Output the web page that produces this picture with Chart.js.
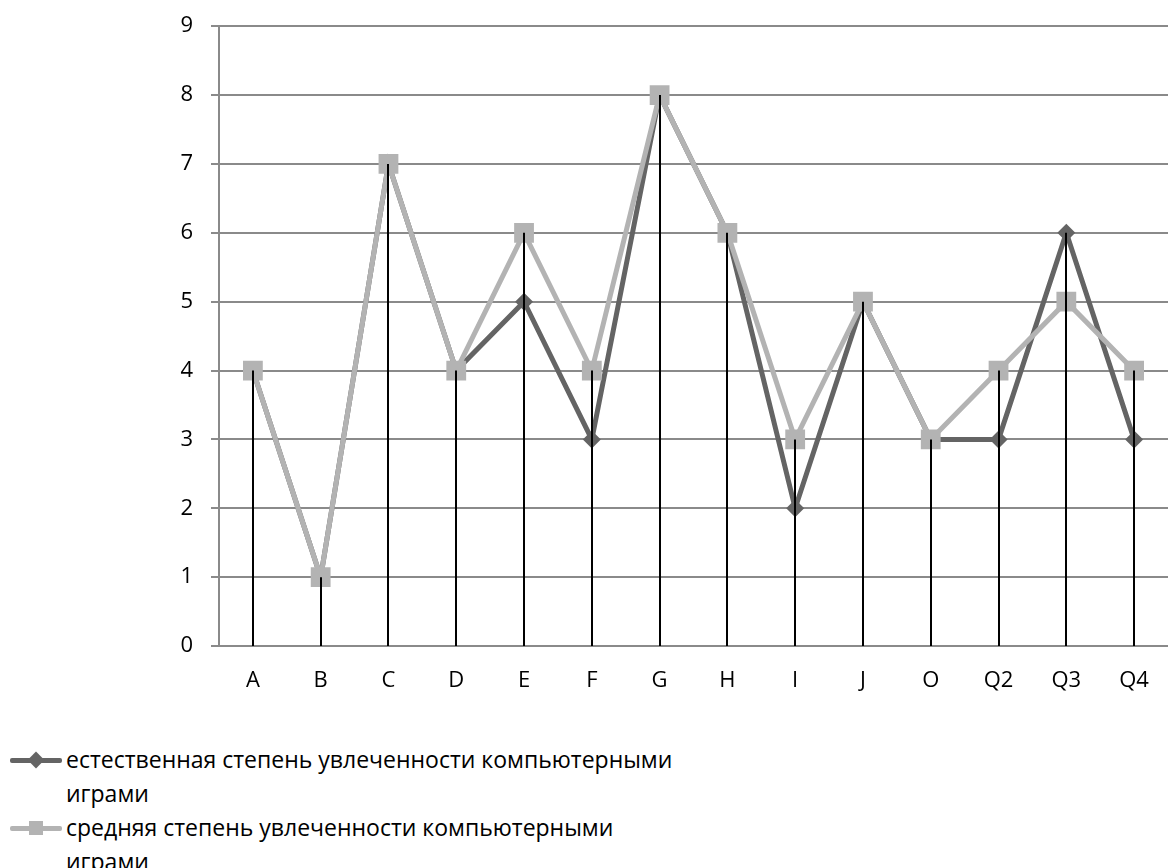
<!DOCTYPE html>
<html>
<head>
<meta charset="utf-8">
<script src="https://cdn.jsdelivr.net/npm/chart.js@4.4.1/dist/chart.umd.min.js"></script>
<style>
  html, body { margin: 0; padding: 0; background: #fff; overflow: hidden; }
  body { width: 1173px; height: 868px; position: relative; font-family: "Open Sans", sans-serif; }
  #wrap { position: absolute; left: 0; top: -5px; width: 1182px; height: 725px; }
  #legend { position: absolute; left: 0; top: 742px; width: 720px; }
  .item { position: relative; padding-left: 66px; font-size: 23px; line-height: 34px; color: #000; width: 615px; }
  .mark { position: absolute; left: 10px; top: 16px; width: 52px; height: 5px; border-radius: 2px; }
  .mark i { position: absolute; left: 19px; top: -5px; width: 14px; height: 14px; }
</style>
</head>
<body>
<div id="wrap"><canvas id="chart"></canvas></div>
<div id="legend"></div>
<script>
const labels = ["A", "B", "C", "D", "E", "F", "G", "H", "I", "J", "O", "Q2", "Q3", "Q4"];
const naturalLevel = [4, 1, 7, 4, 5, 3, 8, 6, 2, 5, 3, 3, 6, 3];
const averageLevel = [4, 1, 7, 4, 6, 4, 8, 6, 3, 5, 3, 4, 5, 4];
const seriesNames = [
  "естественная степень увлеченности компьютерными играми",
  "средняя степень увлеченности компьютерными играми"
];
const yTicks = [0, 1, 2, 3, 4, 5, 6, 7, 8, 9];

const darkGray = "#646464";
const lightGray = "#b3b3b3";
const gridGray = "#8a8a8a";

// black drop lines from the highest point of each category down to zero
const dropLines = {
  id: "dropLines",
  afterDatasetsDraw(chart) {
    const ctx = chart.ctx;
    const x = chart.scales.x;
    const y = chart.scales.y;
    ctx.save();
    ctx.strokeStyle = "#000";
    ctx.lineWidth = 2;
    for (let i = 0; i < labels.length; i++) {
      let top = Math.max(naturalLevel[i], averageLevel[i]);
      let px = Math.round(x.getPixelForValue(i));
      ctx.beginPath();
      ctx.moveTo(px, y.getPixelForValue(top));
      ctx.lineTo(px, y.getPixelForValue(0));
      ctx.stroke();
    }
    ctx.restore();
  }
};

new Chart(document.getElementById("chart"), {
  type: "line",
  data: {
    labels: labels,
    datasets: [
      {
        label: seriesNames[0],
        data: naturalLevel,
        borderColor: darkGray,
        backgroundColor: darkGray,
        borderWidth: 5,
        pointStyle: "rectRot",
        pointRadius: 9,
        pointBorderWidth: 0,
        tension: 0,
        order: 1,
      },
      {
        label: seriesNames[1],
        data: averageLevel,
        borderColor: lightGray,
        backgroundColor: lightGray,
        borderWidth: 5,
        pointStyle: "rect",
        pointRadius: 14,
        pointBorderWidth: 0,
        tension: 0,
        order: 0,
      },
    ],
  },
  options: {
    responsive: true,
    maintainAspectRatio: false,
    animation: false,
    layout: { padding: { left: 0, top: 19, right: 0, bottom: 0 } },
    plugins: {
      legend: { display: false },
      tooltip: { enabled: false },
    },
    scales: {
      x: {
        offset: true,
        grid: { display: false, drawTicks: false },
        border: { display: false },
        ticks: {
          color: "#000",
          padding: 22,
          font: { family: "Open Sans", size: 22 },
        },
        afterFit(scale) { scale.height = 74; },
      },
      y: {
        min: 0,
        max: 9,
        afterBuildTicks(scale) { scale.ticks = yTicks.map(v => ({ value: v })); },
        grid: { color: gridGray, lineWidth: 2, tickLength: 8 },
        border: { color: gridGray, width: 2 },
        ticks: {
          color: "#000",
          padding: 18,
          font: { family: "Open Sans", size: 22 },
        },
        afterFit(scale) { scale.width = 219; },
      },
    },
  },
  plugins: [dropLines],
});

// legend under the plot, text wraps onto a second line
const legend = document.getElementById("legend");
const styles = [
  { color: darkGray, shape: "transform: rotate(45deg) scale(0.85);" },
  { color: lightGray, shape: "" },
];
seriesNames.forEach((name, i) => {
  let item = document.createElement("div");
  item.className = "item";
  item.innerHTML = `<span class="mark" style="background:${styles[i].color}"><i style="background:${styles[i].color};${styles[i].shape}"></i></span>${name}`;
  legend.appendChild(item);
});
</script>
</body>
</html>
